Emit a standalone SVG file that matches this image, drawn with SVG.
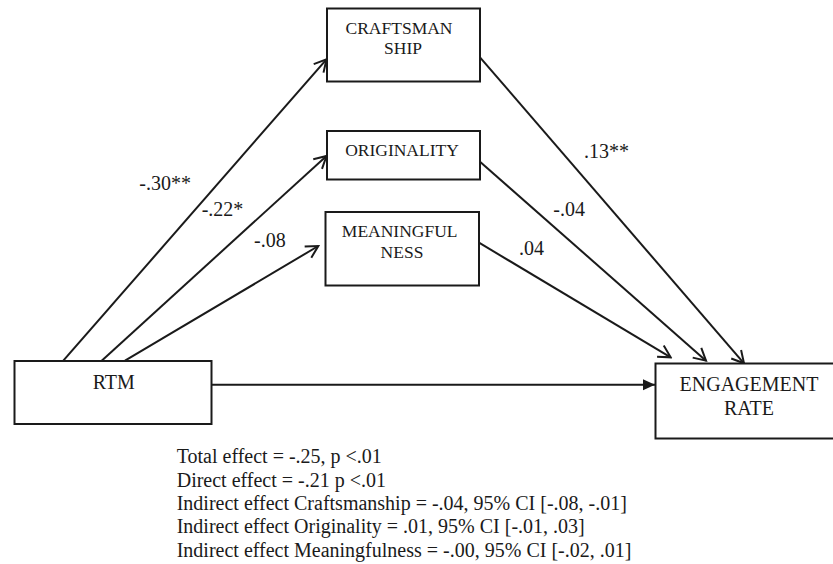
<svg xmlns="http://www.w3.org/2000/svg" width="833" height="564" viewBox="0 0 833 564">
<style>
  .box { fill: #ffffff; stroke: #1a1a1a; stroke-width: 2; }
  .t { font-family: "Liberation Serif", "Times New Roman", serif; fill: #1a1a1a; }
  .nt { font-size: 17.5px; text-anchor: middle; }
  .bt { font-size: 20px; text-anchor: middle; }
  .lbl { font-size: 20px; }
  .note { font-size: 20px; }
  .edge { stroke: #1a1a1a; stroke-width: 2; fill: none; }
</style>
<defs>
  <marker id="open" markerUnits="userSpaceOnUse" viewBox="-14 -8 16 16" markerWidth="16" markerHeight="16" refX="0" refY="0" orient="auto">
    <path d="M-12,-6.5 L0,0 L-12,6.5" fill="none" stroke="#1a1a1a" stroke-width="2"/>
  </marker>
  <marker id="solid" markerUnits="userSpaceOnUse" viewBox="-13 -7 14 14" markerWidth="14" markerHeight="14" refX="0" refY="0" orient="auto">
    <path d="M-12,-5.5 L0,0 L-12,5.5 Z" fill="#1a1a1a"/>
  </marker>
</defs>

<g id="connectors">
  <line class="edge" x1="63.3" y1="360.7" x2="326.5" y2="59.3" marker-end="url(#open)"/>
  <line class="edge" x1="101.7" y1="360.7" x2="326.5" y2="156" marker-end="url(#open)"/>
  <line class="edge" x1="125" y1="360.7" x2="318.3" y2="246" marker-end="url(#open)"/>
  <line class="edge" x1="480" y1="57.3" x2="744" y2="363.3" marker-end="url(#open)"/>
  <line class="edge" x1="480" y1="161.7" x2="706" y2="360.7" marker-end="url(#open)"/>
  <line class="edge" x1="479" y1="242.7" x2="670.7" y2="357.3" marker-end="url(#open)"/>
  <line class="edge" x1="211" y1="384.7" x2="655" y2="384.7" stroke-width="2.5" marker-end="url(#solid)"/>
  <text class="t lbl" x="139.3" y="190">-.30**</text>
  <text class="t lbl" x="201.7" y="216">-.22*</text>
  <text class="t lbl" x="254" y="246.5">-.08</text>
  <text class="t lbl" x="584" y="158.3">.13**</text>
  <text class="t lbl" x="553.3" y="216">-.04</text>
  <text class="t lbl" x="519" y="255">.04</text>
</g>

<g id="craftsmanship">
  <rect class="box" x="327" y="8.5" width="153" height="73"/>
  <text class="t nt" x="399" y="34.3">CRAFTSMAN</text>
  <text class="t nt" x="403" y="54.3">SHIP</text>
</g>

<g id="originality">
  <rect class="box" x="327" y="131" width="153" height="48.5"/>
  <text class="t nt" x="402" y="156">ORIGINALITY</text>
</g>

<g id="meaningfulness">
  <rect class="box" x="325.5" y="212" width="153.5" height="73.5"/>
  <text class="t nt" x="399.7" y="237.3">MEANINGFUL</text>
  <text class="t nt" x="402" y="258.3">NESS</text>
</g>

<g id="rtm">
  <rect class="box" x="14.5" y="361" width="197" height="63"/>
  <text class="t bt" x="113.8" y="389">RTM</text>
</g>

<g id="engagement">
  <rect class="box" x="655.5" y="363.5" width="180" height="75"/>
  <text class="t bt" x="749" y="390.7">ENGAGEMENT</text>
  <text class="t bt" x="749" y="415">RATE</text>
</g>

<g id="notes">
  <text class="t note" x="176.7" y="463.3">Total effect = -.25, p &lt;.01</text>
  <text class="t note" x="176.7" y="486.6">Direct effect = -.21 p &lt;.01</text>
  <text class="t note" x="176.7" y="509.9">Indirect effect Craftsmanship = -.04, 95% CI [-.08, -.01]</text>
  <text class="t note" x="176.7" y="533.2">Indirect effect Originality = .01, 95% CI [-.01, .03]</text>
  <text class="t note" x="176.7" y="556.5">Indirect effect Meaningfulness = -.00, 95% CI [-.02, .01]</text>
</g>
</svg>
